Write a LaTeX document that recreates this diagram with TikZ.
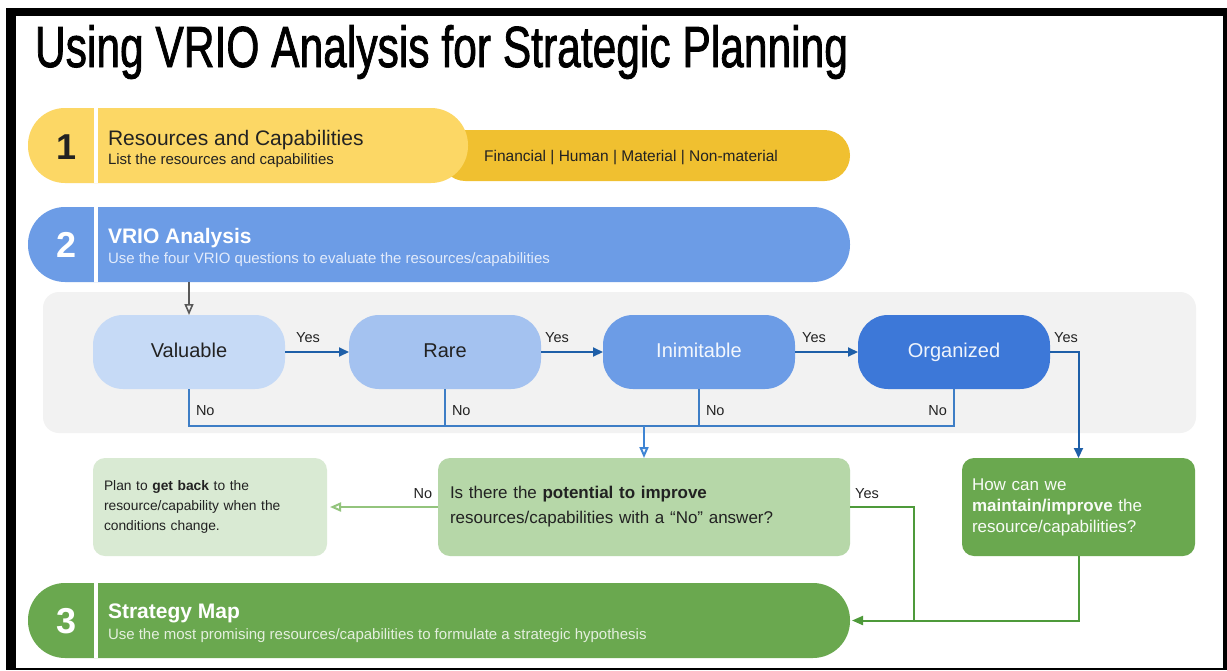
\documentclass[tikz,border=0pt]{standalone}
\usepackage{fontspec}
\setmainfont{Liberation Sans}
\newfontfamily\titlefont{Liberation Sans}[FakeBold=1.6]
\usepackage{graphicx}
\usetikzlibrary{arrows.meta}
\definecolor{yLight}{HTML}{FCD765}
\definecolor{yDark}{HTML}{F0C030}
\definecolor{stepBlue}{HTML}{6C9CE6}
\definecolor{panel}{HTML}{F2F2F2}
\definecolor{cVal}{HTML}{C6DAF6}
\definecolor{cRare}{HTML}{A4C2F0}
\definecolor{cInim}{HTML}{6C9CE6}
\definecolor{cOrg}{HTML}{3D78D8}
\definecolor{arrBlue}{HTML}{1E5FA8}
\definecolor{noBlue}{HTML}{3E7EC6}
\definecolor{openBlue}{HTML}{3F85D4}
\definecolor{qGreen}{HTML}{B6D7A8}
\definecolor{lGreen}{HTML}{D9EAD3}
\definecolor{mGreen}{HTML}{6AA84F}
\definecolor{lineLight}{HTML}{93C47D}
\definecolor{lineGreen}{HTML}{4E9A3A}
\definecolor{subBlue}{HTML}{E2EBFB}
\definecolor{subGreen}{HTML}{E4EFDE}
\definecolor{txt}{HTML}{222222}
\begin{document}
\begin{tikzpicture}[x=1pt,y=-1pt,
  every node/.style={inner sep=0pt, outer sep=0pt},
  pill/.style={rounded corners=37pt, minimum height=75pt, minimum width=822pt},
  sepline/.style={white, line width=4pt},
  num/.style={anchor=base, font=\bfseries\fontsize{36}{40}\selectfont},
  head/.style={anchor=base west, font=\fontsize{21}{24}\selectfont},
  headb/.style={anchor=base west, font=\bfseries\fontsize{21}{24}\selectfont},
  sub/.style={anchor=base west, font=\fontsize{15}{18}\selectfont},
  vrio/.style={rounded corners=30pt, minimum width=192pt, minimum height=74pt, text height=14.5pt, text depth=4pt, font=\fontsize{20}{24}\selectfont},
  lbl/.style={font=\fontsize{14.5}{17}\selectfont, text=txt},
  card/.style={rounded corners=12pt, minimum height=98pt, align=left},
  yesarrow/.style={arrBlue, line width=2pt, -{Triangle[length=10pt,width=9pt]}},
  noline/.style={noBlue, line width=2.2pt},
  greyarrow/.style={black!65, line width=1.6pt, -{Triangle[open,length=11pt,width=9pt]}},
  openarrow/.style={openBlue, line width=2pt, -{Triangle[open,length=11pt,width=9pt]}},
  lightarrow/.style={lineLight, line width=2pt, -{Triangle[open,length=11pt,width=9pt]}},
  greenline/.style={lineGreen, line width=2pt},
  greenarrow/.style={lineGreen, line width=2pt, -{Triangle[length=11pt,width=9pt]}}]
\useasboundingbox (0,0) rectangle (1227,670);
\fill[white] (0,0) rectangle (1227,670);
\fill[black] (6,8) rectangle (1227,670);
\fill[white] (16,16) rectangle (1223,668);

% title
\node[anchor=base west] (title) at (35,67) {\resizebox{813pt}{42pt}{\titlefont\fontsize{50}{60}\selectfont Using VRIO Analysis for Strategic Planning}};

% step 1
\node[rounded corners=25.5pt, minimum width=410pt, minimum height=51pt, fill=yDark] (finbar) at (645,155.5) {};
\node[pill, minimum width=440pt, fill=yLight] (s1) at (248,145.5) {};
\draw[sepline] (96,108) -- (96,183);
\node[num, text=txt] (n1) at (67,159) {1};
\node[head, text=txt] (t1) at (108,145) {Resources and Capabilities};
\node[sub, text=txt] (d1) at (108,164) {List the resources and capabilities};
\node[anchor=base, font=\fontsize{15.5}{18}\selectfont, text=txt] (fin) at (631,161) {Financial | Human | Material | Non-material};

% step 2
\node[pill, fill=stepBlue] (s2) at (439,244.5) {};
\draw[sepline] (96,207) -- (96,282);
\node[num, text=white] (n2) at (67,257) {2};
\node[headb, text=white] (t2) at (108,243) {VRIO Analysis};
\node[sub, text=subBlue] (d2) at (108,263) {Use the four VRIO questions to evaluate the resources/capabilities};

% panel
\fill[panel, rounded corners=16pt] (43,292) rectangle (1196,433);

% VRIO nodes
\node[vrio, fill=cVal, text=txt] (val) at (189,352) {Valuable};
\node[vrio, fill=cRare, text=txt] (rare) at (445,352) {Rare};
\node[vrio, fill=cInim, text=white!92!cInim] (inim) at (699,352) {Inimitable};
\node[vrio, fill=cOrg, text=white!92!cOrg] (org) at (954,352) {Organized};

\draw[greyarrow] (val.north |- s2.south) -- (val.north);
\draw[yesarrow] (val) -- (rare);
\draw[yesarrow] (rare) -- (inim);
\draw[yesarrow] (inim) -- (org);
\node[lbl] (y1) at (308,338) {Yes};
\node[lbl] (y2) at (557,338) {Yes};
\node[lbl] (y3) at (814,338) {Yes};
\node[lbl] (y4) at (1066,338) {Yes};

\coordinate (bus) at (644,426);
\draw[noline] (val.south) -- (val.south |- bus) -- (org.south |- bus) -- (org.south);
\draw[noline] (rare.south) -- (rare.south |- bus);
\draw[noline] (inim.south) -- (inim.south |- bus);
\node[lbl, anchor=west] (no1) at (196,411) {No};
\node[lbl, anchor=west] (no2) at (452,411) {No};
\node[lbl, anchor=west] (no3) at (706,411) {No};
\node[lbl, anchor=east] (no4) at (947,411) {No};

% lower row
\node[card, fill=qGreen, minimum width=412pt, text width=388pt, inner xsep=12pt, text=txt, font=\fontsize{17}{25}\selectfont] (q) at (644,507) {Is there the \textbf{potential to improve}\\resources/capabilities with a “No” answer?};
\node[card, fill=lGreen, minimum width=234pt, text width=212pt, inner xsep=11pt, text=txt, font=\fontsize{13.8}{20}\selectfont] (left) at (210,507) {Plan to \textbf{get back} to the\\resource/capability when the\\conditions change.};
\node[card, fill=mGreen, minimum width=233pt, text width=213pt, inner xsep=10pt, text=white!95!mGreen, font=\fontsize{17}{21}\selectfont] (how) at (1078.5,507) {How can we\\\textbf{maintain/improve} the\\resource/capabilities?};

\draw[openarrow] (q.north |- bus) -- (q.north);
\draw[yesarrow] (org.east) -| (how.north);
\draw[lightarrow, shorten >=3pt] (q.west) -- (left.east);
\node[lbl] (qno) at (423,494) {No};
\node[lbl] (qyes) at (867,494) {Yes};

% step 3
\node[pill, fill=mGreen] (s3) at (439,620.5) {};
\draw[sepline] (96,583) -- (96,658);
\node[num, text=white] (n3) at (67,633) {3};
\node[headb, text=white] (t3) at (108,618) {Strategy Map};
\node[sub, text=subGreen] (d3) at (108,639) {Use the most promising resources/capabilities to formulate a strategic hypothesis};

\coordinate (join) at (914,620.5);
\draw[greenline] (q.east) -| (join);
\draw[greenarrow, shorten >=2pt] (how.south) |- (s3.east);
\end{tikzpicture}
\end{document}
